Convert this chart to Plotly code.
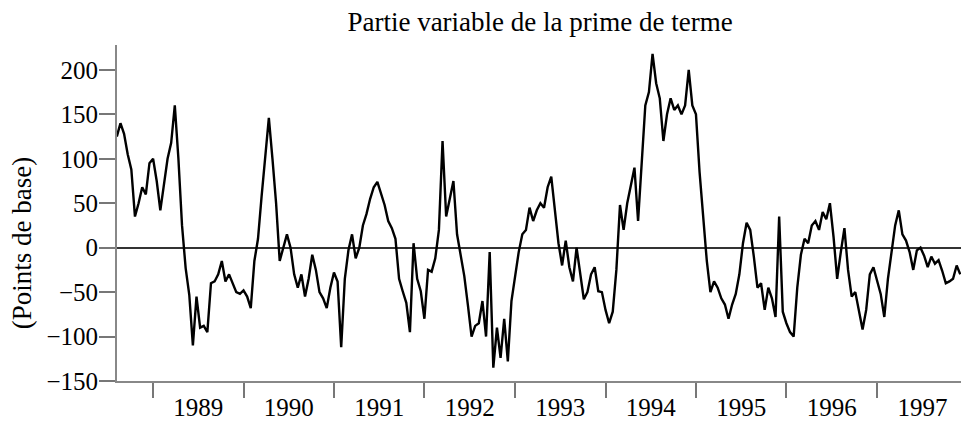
import plotly.graph_objects as go
import pandas as pd

# Series sampled every 0.04 year starting at 1988.60 (values in basis points)
start_year = 1988.60
step_year = 0.04

seg_1988_89 = [125, 140, 128, 105, 88, 35, 50, 68, 60, 95, 100, 75, 42, 70, 100, 118, 160, 100, 25, -23,
               -53, -110, -55, -90, -88, -95, -40, -38, -30, -15, -38, -30, -40, -50, -52, -48, -55, -68, -15]
seg_1990_91 = [10, 58, 103, 146, 100, 50, -15, 0, 15, 0, -30, -45, -30, -55, -35, -8, -25, -50, -57, -68,
               -45, -28, -38, -112, -35, -3, 15, -12, 0, 25, 38, 55, 68, 74, 62, 48, 30, 22, 10]
seg_1991_93 = [-35, -49, -62, -95, 5, -35, -49, -80, -25, -27, -12, 20, 120, 35, 55, 75, 15, -8, -32, -65,
               -100, -88, -85, -60, -100, -5, -135, -90, -124, -80, -128, -60, -30, -5, 15, 20, 45, 30, 42]
seg_1993_94 = [50, 45, 68, 80, 40, 5, -20, 8, -22, -38, 0, -27, -58, -50, -30, -22, -49, -50, -70, -85,
               -72, -25, 48, 20, 50, 70, 90, 30, 92, 160, 175, 218, 185, 168, 120, 150, 168, 155]
seg_1994_96 = [160, 150, 160, 200, 160, 150, 85, 36, -15, -50, -38, -45, -57, -64, -80, -64, -52, -30, 5, 28,
               20, -10, -45, -40, -70, -45, -57, -78, 35, -72, -85, -95, -100, -45, -8, 10, 5, 25, 30]
seg_1996_97 = [20, 40, 32, 50, 12, -35, -5, 22, -25, -55, -50, -72, -92, -70, -30, -22, -38, -52, -78, -35,
               -5, 25, 42, 15, 8, -5, -25, -3, 0, -9, -22, -10, -18, -14, -26, -40, -38, -35, -20, -30]

values = seg_1988_89 + seg_1990_91 + seg_1991_93 + seg_1993_94 + seg_1994_96 + seg_1996_97

y_tick_vals = [-150, -100, -50, 0, 50, 100, 150, 200]
y_tick_text = ["\u2212150", "\u2212100", "\u221250", "0", "50", "100", "150", "200"]

title_text = "Partie variable de la prime de terme"
y_title_text = "(Points de base)"

FONT = "Liberation Serif"


def dec_to_date(d):
    yr = int(d)
    a = pd.Timestamp(yr, 1, 1)
    b = pd.Timestamp(yr + 1, 1, 1)
    return a + (d - yr) * (b - a)


dates = [dec_to_date(start_year + step_year * i) for i in range(len(values))]

fig = go.Figure()
fig.add_trace(go.Scatter(x=dates, y=values, mode="lines",
                         line=dict(color="black", width=2.4), hoverinfo="skip"))

fig.update_layout(
    width=961, height=423,
    margin=dict(l=117, r=0, t=45, b=42, autoexpand=False),
    plot_bgcolor="white", paper_bgcolor="white",
    showlegend=False,
    font=dict(family=FONT, color="black", size=27),
    title=dict(text=title_text, xref="container", x=0.562, xanchor="center",
               yref="container", y=0.948, yanchor="middle",
               font=dict(family=FONT, size=27, color="black")),
)

fig.update_xaxes(
    type="date",
    range=[dec_to_date(1988.602), dec_to_date(1997.928)],
    tick0="1989-01-01", dtick="M12", tickformat="%Y",
    ticklabelmode="period",
    ticks="outside", ticklen=15, tickwidth=2, tickcolor="#777",
    showline=True, linecolor="#888", linewidth=2,
    showgrid=False, zeroline=False, automargin=False,
    ticklabelstandoff=-12,
    tickfont=dict(family=FONT, size=25),
)

fig.update_yaxes(
    range=[-150, 228],
    tickmode="array", tickvals=y_tick_vals, ticktext=y_tick_text,
    ticks="outside", ticklen=16, tickwidth=2, tickcolor="#777",
    showline=True, linecolor="#888", linewidth=2,
    showgrid=False, automargin=False,
    zeroline=True, zerolinecolor="#333", zerolinewidth=1.5,
    ticklabelstandoff=-4,
    tickfont=dict(family=FONT, size=25),
)

fig.add_annotation(text=y_title_text, textangle=-90,
                   xref="paper", yref="paper", x=-0.1126, y=0.41,
                   xanchor="center", yanchor="middle", showarrow=False,
                   font=dict(family=FONT, size=27, color="black"))

fig.write_html("out.html", config={"displayModeBar": False},
               post_script="document.body.style.margin='0';")
